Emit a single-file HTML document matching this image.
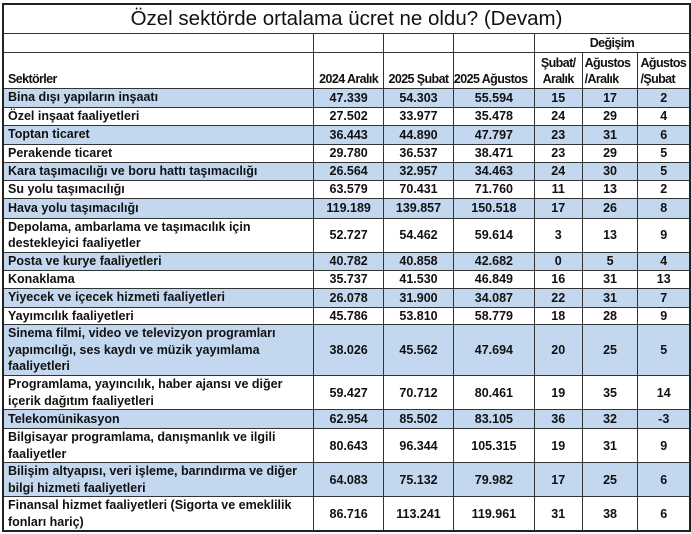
<!DOCTYPE html>
<html><head><meta charset="utf-8"><style>
body{margin:0;background:#fff;width:691px;height:534px;overflow:hidden;position:relative;font-family:"Liberation Sans",Arial,sans-serif}
table{position:absolute;left:2px;top:3px;border-collapse:collapse;table-layout:fixed;border:2px solid #222}
td{border:1px solid #333;padding:0;font-weight:bold;font-size:12.5px;text-align:center;vertical-align:middle;overflow:hidden;white-space:nowrap;color:#111}
td.l{text-align:left;padding-left:4px;white-space:nowrap;line-height:16.5px;font-size:12.5px}
tr.b td{background:#c3d8ee}
.t{font-weight:normal;font-size:20.5px;text-align:center}
.h{font-size:12.5px;letter-spacing:-0.6px;vertical-align:bottom;line-height:16px;padding-bottom:1px}
</style></head><body>
<table>
<colgroup><col style="width:311px"><col style="width:70px"><col style="width:70px"><col style="width:81px"><col style="width:48px"><col style="width:56px"><col style="width:52px"></colgroup>
<tr style="height:29px"><td colspan="7" class="t">Özel sektörde ortalama ücret ne oldu? (Devam)</td></tr>
<tr style="height:19px"><td></td><td></td><td></td><td></td><td colspan="3" class="h">Değişim</td></tr>
<tr style="height:36px"><td class="h" style="text-align:left;padding-left:4px">Sektörler</td><td class="h">2024 Aralık</td><td class="h">2025 Şubat</td><td class="h" style="text-align:left">2025 Ağustos</td><td class="h">Şubat/<br>Aralık</td><td class="h" style="text-align:left;padding-left:2px">Ağustos<br>/Aralık</td><td class="h" style="text-align:left;padding-left:2px">Ağustos<br>/Şubat</td></tr>
<tr class="b" style="height:19px"><td class="l">Bina dışı yapıların inşaatı</td><td>47.339</td><td>54.303</td><td>55.594</td><td>15</td><td>17</td><td>2</td></tr>
<tr style="height:18px"><td class="l">Özel inşaat faaliyetleri</td><td>27.502</td><td>33.977</td><td>35.478</td><td>24</td><td>29</td><td>4</td></tr>
<tr class="b" style="height:19px"><td class="l">Toptan ticaret</td><td>36.443</td><td>44.890</td><td>47.797</td><td>23</td><td>31</td><td>6</td></tr>
<tr style="height:18px"><td class="l">Perakende ticaret</td><td>29.780</td><td>36.537</td><td>38.471</td><td>23</td><td>29</td><td>5</td></tr>
<tr class="b" style="height:18px"><td class="l">Kara taşımacılığı ve boru hattı taşımacılığı</td><td>26.564</td><td>32.957</td><td>34.463</td><td>24</td><td>30</td><td>5</td></tr>
<tr style="height:18px"><td class="l">Su yolu taşımacılığı</td><td>63.579</td><td>70.431</td><td>71.760</td><td>11</td><td>13</td><td>2</td></tr>
<tr class="b" style="height:20px"><td class="l">Hava yolu taşımacılığı</td><td>119.189</td><td>139.857</td><td>150.518</td><td>17</td><td>26</td><td>8</td></tr>
<tr style="height:34px"><td class="l">Depolama, ambarlama ve taşımacılık için<br>destekleyici faaliyetler</td><td>52.727</td><td>54.462</td><td>59.614</td><td>3</td><td>13</td><td>9</td></tr>
<tr class="b" style="height:18px"><td class="l">Posta ve kurye faaliyetleri</td><td>40.782</td><td>40.858</td><td>42.682</td><td>0</td><td>5</td><td>4</td></tr>
<tr style="height:18px"><td class="l">Konaklama</td><td>35.737</td><td>41.530</td><td>46.849</td><td>16</td><td>31</td><td>13</td></tr>
<tr class="b" style="height:19px"><td class="l">Yiyecek ve içecek hizmeti faaliyetleri</td><td>26.078</td><td>31.900</td><td>34.087</td><td>22</td><td>31</td><td>7</td></tr>
<tr style="height:17px"><td class="l">Yayımcılık faaliyetleri</td><td>45.786</td><td>53.810</td><td>58.779</td><td>18</td><td>28</td><td>9</td></tr>
<tr class="b" style="height:51px"><td class="l">Sinema filmi, video ve televizyon programları<br>yapımcılığı, ses kaydı ve müzik yayımlama<br>faaliyetleri</td><td>38.026</td><td>45.562</td><td>47.694</td><td>20</td><td>25</td><td>5</td></tr>
<tr style="height:34px"><td class="l">Programlama, yayıncılık, haber ajansı ve diğer<br>içerik dağıtım faaliyetleri</td><td>59.427</td><td>70.712</td><td>80.461</td><td>19</td><td>35</td><td>14</td></tr>
<tr class="b" style="height:19px"><td class="l">Telekomünikasyon</td><td>62.954</td><td>85.502</td><td>83.105</td><td>36</td><td>32</td><td>-3</td></tr>
<tr style="height:34px"><td class="l">Bilgisayar programlama, danışmanlık ve ilgili<br>faaliyetler</td><td>80.643</td><td>96.344</td><td>105.315</td><td>19</td><td>31</td><td>9</td></tr>
<tr class="b" style="height:34px"><td class="l">Bilişim altyapısı, veri işleme, barındırma ve diğer<br>bilgi hizmeti faaliyetleri</td><td>64.083</td><td>75.132</td><td>79.982</td><td>17</td><td>25</td><td>6</td></tr>
<tr style="height:33px"><td class="l">Finansal hizmet faaliyetleri (Sigorta ve emeklilik<br>fonları hariç)</td><td>86.716</td><td>113.241</td><td>119.961</td><td>31</td><td>38</td><td>6</td></tr>
</table>
</body></html>
